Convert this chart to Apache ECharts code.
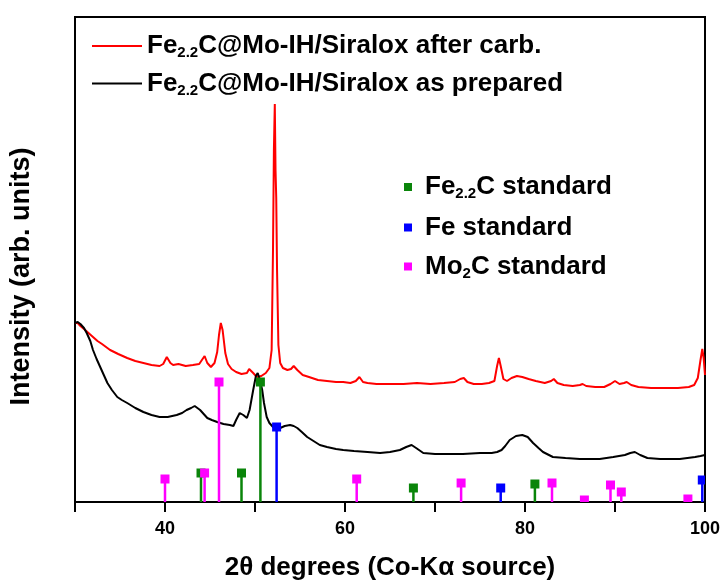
<!DOCTYPE html>
<html>
<head>
<meta charset="utf-8">
<script src="https://cdn.jsdelivr.net/npm/echarts@6/dist/echarts.min.js"></script>
<style>html,body{margin:0;padding:0;background:#fff}#c{width:724px;height:583px}</style>
</head>
<body>
<div id="c"></div>
<script>
// 2theta (deg), intensity (arb. units)
const afterCarb = [
[30.0,179],[30.3,179],[30.6,176],[31.0,173],[31.5,169],[32.0,165],[32.5,161],[33.0,158],[33.9,152],[34.8,148],
[35.8,144],[36.7,141],[37.6,139],[38.5,137],[39.4,136],[39.8,138],[40.2,145],[40.6,139],[40.9,137],[41.5,138],
[42.3,136],[43.1,137],[43.8,138],[44.1,142],[44.4,146],[44.7,139],[45.1,135],[45.5,139],[45.8,150],[46.0,167],
[46.2,179],[46.4,172],[46.7,149],[47.0,138],[47.4,133],[47.9,130],[48.5,128],[49.1,129],[49.35,133],[49.55,135],
[49.8,129],[50.2,125],[50.7,126],[51.2,129],[51.6,134],[51.85,152],[52.0,252],[52.1,352],[52.2,398],[52.28,332],
[52.36,304],[52.45,232],[52.6,157],[52.8,139],[53.1,134],[53.6,132],[54.0,133],[54.3,136],[54.7,132],[55.3,127],
[56.0,125],[57.0,122],[58.0,121],[59.0,120],[59.8,120],[60.6,119],[61.2,121],[61.6,125],[62.0,120],[62.5,119],
[63.5,118],[65.0,118],[66.5,118],[68.0,119],[69.5,118],[71.0,119],[72.2,120],[72.8,123],[73.2,124],[73.6,120],
[74.3,118],[75.2,118],[76.0,119],[76.6,121],[76.9,136],[77.1,144],[77.3,136],[77.6,123],[78.0,121],[78.5,124],
[79.1,126],[79.7,125],[80.4,123],[81.2,121],[82.2,119],[82.9,121],[83.2,123],[83.6,119],[84.3,117],[85.3,116],
[86.1,117],[86.4,118],[86.8,116],[87.8,115],[88.8,115],[89.5,118],[90.0,121],[90.5,118],[91.0,119],[91.3,120],
[91.8,117],[92.6,115],[94.0,114],[95.5,114],[97.0,114],[98.2,115],[98.8,117],[99.2,124],[99.5,142],[99.7,153],
[99.85,144],[100.0,127]
];
const asPrepared = [
[30.0,179],[30.3,180],[30.6,178],[31.0,174],[31.3,169],[31.7,161],[32.0,152],[32.4,143],[32.8,135],[33.2,127],
[33.6,119],[34.1,112],[34.7,105],[35.2,102],[35.8,99],[36.7,94],[37.6,90],[38.5,87],[39.4,85],[40.3,85],
[41.3,87],[41.9,89],[42.4,92],[42.9,94],[43.3,96],[43.6,94],[43.9,92],[44.3,88],[44.7,84],[45.2,82],
[45.8,80],[46.5,78],[47.2,77],[47.6,76],[47.9,82],[48.3,89],[48.7,87],[49.1,84],[49.4,92],[49.8,112],
[50.1,126],[50.3,129],[50.55,122],[50.8,112],[51.0,99],[51.3,85],[51.6,79],[52.0,75],[52.4,74],[52.8,74],
[53.3,76],[53.9,77],[54.3,76],[54.7,74],[55.2,70],[55.8,65],[56.5,61],[57.2,57],[58.0,55],[59.0,53],
[59.8,52],[61.0,51],[62.5,50],[63.9,49],[65.0,50],[66.1,52],[66.8,55],[67.4,57],[67.9,54],[68.7,49],
[70.0,48],[71.5,48],[73.1,48],[75.0,49],[76.3,49],[76.9,50],[77.4,52],[77.8,56],[78.3,62],[79.0,66],
[79.7,67],[80.3,65],[80.9,59],[81.5,54],[82.0,50],[83.1,45],[84.5,44],[86.1,43],[88.3,43],[89.8,45],
[91.1,47],[91.7,49],[92.2,50],[92.8,47],[93.6,44],[95.0,43],[97.2,43],[98.9,45],[99.5,46],[100.0,47]
];
const fe22cStd = [[44.0,29],[48.5,29],[50.6,120],[67.6,14],[81.1,18]];
const feStd = [[52.4,75],[77.3,14],[99.7,22]];
const mo2cStd = [[40.0,23],[44.4,29],[46.0,120],[61.3,23],[72.9,19],[83.0,19],[86.6,2],[89.5,17],[90.7,10],[98.1,3]];
const xTickLabels = [40,60,80,100];

const FONT = 'Liberation Sans, Arial, sans-serif';
const chart = echarts.init(document.getElementById('c'));

function stickSeries(name, data, color){
  return {
    name, type:'custom', data, clip:true, z:3,
    itemStyle:{color},
    renderItem(params, api){
      const x = api.value(0), v = api.value(1);
      const b = api.coord([x,0]), t = api.coord([x,v]);
      return {type:'group', children:[
        {type:'line', shape:{x1:b[0],y1:b[1],x2:t[0],y2:t[1]}, style:{stroke:color,lineWidth:2.5}},
        {type:'rect', shape:{x:t[0]-4.5,y:t[1]-4.5,width:9,height:9}, style:{fill:color}}
      ]};
    }
  };
}
const fmt = n => n.replace('Fe2.2C','Fe{sub|2.2}C').replace('Mo2C','Mo{sub|2}C');

chart.setOption({
  animation:false,
  backgroundColor:'#fff',
  grid:{left:75,right:19,top:17,bottom:81,show:true,borderColor:'#000',borderWidth:2,backgroundColor:'transparent',
    containLabel:false,outerBoundsMode:'none'},
  legend:[
    {data:['Fe2.2C@Mo-IH/Siralox after carb.','Fe2.2C@Mo-IH/Siralox as prepared'],
     orient:'vertical',left:87,top:28,itemWidth:50,itemHeight:2,icon:'rect',itemGap:10,
     formatter:fmt,
     textStyle:{fontFamily:FONT,fontWeight:'bold',fontSize:26,color:'#000',
       rich:{sub:{fontFamily:FONT,fontWeight:'bold',fontSize:15,color:'#000',padding:[14,0,0,0]}}}},
    {data:['Fe2.2C standard','Fe standard','Mo2C standard'],
     orient:'vertical',left:399,top:169,itemWidth:8,itemHeight:8,icon:'rect',itemGap:13,
     formatter:fmt,
     textStyle:{fontFamily:FONT,fontWeight:'bold',fontSize:26,color:'#000',padding:[0,0,0,8],
       rich:{sub:{fontFamily:FONT,fontWeight:'bold',fontSize:15,color:'#000',padding:[14,0,0,0]}}}}
  ],
  xAxis:{type:'value',min:30,max:100,interval:10,
    name:'2\u03b8 degrees (Co-K\u03b1 source)',nameLocation:'middle',nameGap:53,
    nameTextStyle:{fontFamily:FONT,fontWeight:'bold',fontSize:26,color:'#000'},
    axisLine:{lineStyle:{color:'#000',width:2}},
    axisTick:{inside:false,length:10,lineStyle:{color:'#000',width:2}},
    axisLabel:{fontFamily:FONT,fontWeight:'bold',fontSize:18,color:'#000',margin:18,
      formatter:v=>xTickLabels.includes(v)?String(v):''},
    splitLine:{show:false}},
  yAxis:{type:'value',min:0,max:485,
    name:'Intensity (arb. units)',nameLocation:'middle',nameGap:40,
    nameTextStyle:{fontFamily:FONT,fontWeight:'bold',fontSize:27,color:'#000',padding:[0,34,0,0]},
    axisLine:{show:true,lineStyle:{color:'#000',width:2}},
    axisTick:{show:false},axisLabel:{show:false},splitLine:{show:false}},
  series:[
    {name:'Fe2.2C@Mo-IH/Siralox after carb.',type:'line',data:afterCarb,symbol:'none',z:2,
      lineStyle:{color:'#ff0000',width:2},itemStyle:{color:'#ff0000'}},
    {name:'Fe2.2C@Mo-IH/Siralox as prepared',type:'line',data:asPrepared,symbol:'none',z:2,
      lineStyle:{color:'#000000',width:2},itemStyle:{color:'#000000'}},
    stickSeries('Fe2.2C standard',fe22cStd,'#0a850a'),
    stickSeries('Fe standard',feStd,'#0000ff'),
    stickSeries('Mo2C standard',mo2cStd,'#ff00ff')
  ]
});
</script>
</body>
</html>
